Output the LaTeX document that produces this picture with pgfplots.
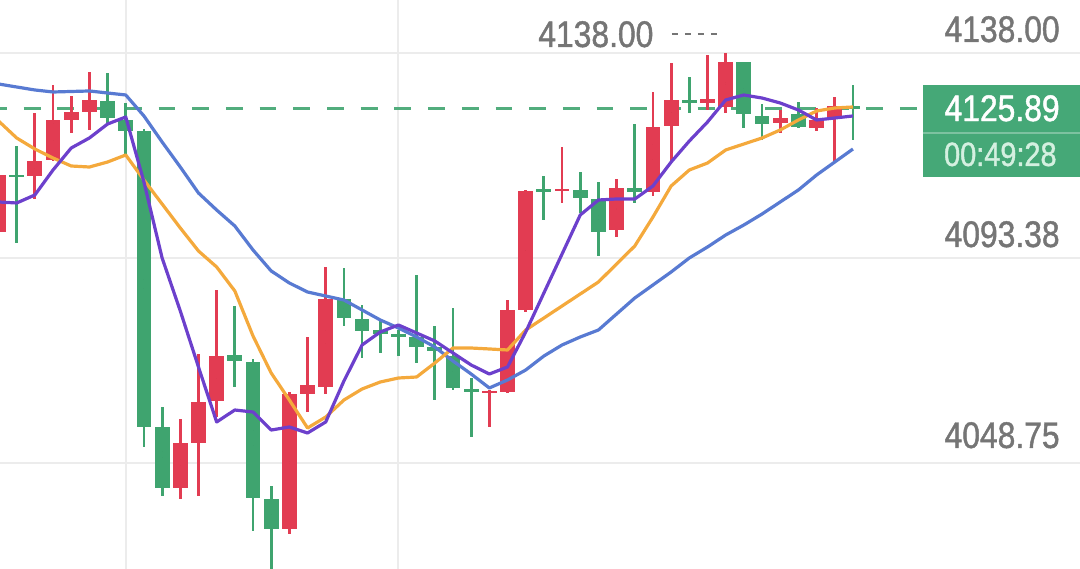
\documentclass[border=0pt]{standalone}
\usepackage{pgfplots}
\usepackage{pgfplotstable}
\pgfplotsset{compat=1.18}
\usepackage{fontspec}
\setmainfont{Liberation Sans}
\newfontfamily\lab[FakeStretch=0.86,FakeBold=1.2]{Liberation Sans}
\definecolor{cred}{RGB}{226,60,82}
\definecolor{cgreen}{RGB}{63,164,111}
\definecolor{corange}{RGB}{244,169,60}
\definecolor{cpurple}{RGB}{108,64,204}
\definecolor{cblue}{RGB}{88,122,210}
\definecolor{gridc}{RGB}{236,236,236}
\definecolor{labgray}{RGB}{117,117,117}
\definecolor{boxgreen}{RGB}{69,168,119}
\definecolor{timec}{RGB}{212,240,224}

\pgfplotstableread{
x o h l c
0 4099.04 4111.66 4098.82 4111.44
2 4111.22 4124.94 4106.22 4114.49
3 4114.71 4131.03 4114.50 4123.42
4 4123.42 4128.64 4120.59 4125.16
5 4125.16 4133.86 4121.24 4127.77
10 4043.31 4058.33 4040.91 4053.10
11 4053.10 4072.48 4041.57 4062.03
12 4062.25 4086.41 4058.76 4072.04
16 4034.38 4064.21 4033.29 4063.77
17 4063.77 4076.18 4059.85 4065.73
18 4065.29 4091.42 4063.77 4084.45
27 4064.10 4064.55 4056.59 4064.50
28 4064.21 4084.23 4063.99 4082.06
29 4082.06 4108.18 4081.62 4107.96
31 4107.90 4117.54 4105.35 4108.40
34 4099.47 4110.57 4097.95 4108.61
36 4107.74 4129.51 4106.87 4121.89
37 4122.11 4135.82 4114.27 4127.77
39 4127.12 4137.60 4125.59 4127.99
40 4126.25 4138.00 4124.94 4136.04
43 4122.76 4125.59 4120.59 4123.85
45 4121.67 4126.03 4121.02 4123.42
46 4123.85 4128.42 4114.49 4126.46
}\redtab

\pgfplotstableread{
x o h l c
1 4111.50 4117.76 4096.64 4111.05
6 4127.55 4133.65 4122.33 4123.85
7 4123.42 4127.12 4115.80 4121.02
8 4121.02 4121.46 4052.23 4056.59
9 4056.59 4060.94 4041.57 4043.31
13 4072.26 4082.93 4065.29 4070.95
14 4070.74 4071.39 4033.95 4041.13
15 4040.91 4043.74 4025.46 4034.38
19 4084.45 4091.20 4078.57 4080.31
20 4080.10 4083.14 4071.61 4077.48
21 4077.70 4079.88 4072.70 4076.83
22 4076.90 4077.70 4072.04 4076.18
23 4076.18 4089.67 4070.52 4074.00
24 4074.00 4078.57 4062.46 4073.13
25 4072.04 4082.49 4064.64 4065.08
26 4064.86 4067.25 4054.41 4064.21
30 4108.30 4111.22 4101.65 4107.80
32 4108.18 4112.10 4103.17 4106.44
33 4106.22 4109.92 4093.81 4099.04
35 4108.61 4122.54 4105.35 4107.74
38 4127.77 4132.77 4124.94 4127.12
41 4136.04 4136.04 4121.67 4124.72
42 4124.29 4126.90 4119.06 4122.54
44 4124.72 4127.33 4121.67 4121.89
47 4126.40 4131.03 4119.06 4125.89
}\greentab

\pgfplotstableread{
x blue purple orange
0 4131.25 4105.57 4123.20
1 4130.60 4105.35 4119.50
2 4129.95 4107.09 4117.10
3 4129.51 4112.53 4115.14
4 4129.62 4117.32 4113.40
5 4129.73 4119.50 4113.18
6 4129.29 4122.54 4114.27
7 4128.86 4124.07 4115.80
8 4124.29 4109.92 4110.35
9 4118.63 4093.38 4105.13
10 4113.18 4081.84 4099.91
11 4107.52 4069.65 4094.90
12 4103.82 4057.68 4091.42
13 4100.34 4060.29 4086.19
14 4095.12 4059.85 4076.40
15 4090.55 4055.93 4068.34
16 4087.93 4056.59 4062.46
17 4085.97 4055.28 4056.37
18 4085.10 4057.68 4058.76
19 4084.23 4066.60 4062.46
20 4082.06 4074.44 4064.86
21 4079.88 4077.27 4066.38
22 4078.14 4078.79 4067.25
23 4076.18 4077.05 4067.47
24 4074.00 4075.31 4070.52
25 4070.95 4072.70 4073.78
26 4068.12 4070.08 4073.78
27 4065.08 4068.12 4073.57
28 4066.82 4069.65 4073.35
29 4068.99 4077.27 4077.70
30 4072.04 4085.76 4080.31
31 4074.44 4094.25 4082.93
32 4076.18 4102.74 4085.54
33 4077.70 4106.00 4088.15
34 4081.19 4106.22 4092.07
35 4084.67 4106.22 4095.99
36 4087.50 4109.05 4102.30
37 4090.33 4114.27 4109.05
38 4093.38 4118.84 4112.53
39 4095.77 4122.98 4114.05
40 4098.38 4127.77 4116.89
41 4100.56 4128.86 4118.19
42 4102.95 4128.20 4119.50
43 4105.57 4127.12 4121.24
44 4108.18 4125.59 4123.42
45 4111.44 4123.42 4125.37
46 4114.27 4123.85 4126.03
47 4117.10 4124.29 4126.25
}\matab

\pgfplotsset{
  wick/.style={only marks, mark=*, mark size=0pt, mark options={draw=none, fill=none}, forget plot,
    error bars/.cd, y dir=both, y explicit, error mark=none,
    error bar style={draw=#1, line width=1.4bp}},
  body/.style={only marks, mark=*, mark size=0pt, mark options={draw=none, fill=none}, forget plot,
    error bars/.cd, y dir=both, y explicit, error mark=none,
    error bar style={draw=#1, line width=7.4bp}},
}

\begin{document}
\begin{tikzpicture}
\begin{axis}[
  width=540bp, height=284.5bp, scale only axis,
  xmin=0.0825, xmax=59.49,
  ymin=4025.675, ymax=4149.537,
  axis lines=none, ticks=none,
  clip=true,
]
% grid
\draw[gridc, line width=1bp] (axis cs:7,4025.675) -- (axis cs:7,4149.537);
\draw[gridc, line width=1bp] (axis cs:22,4025.675) -- (axis cs:22,4149.537);
\draw[gridc, line width=1bp] (axis cs:0.0825,4138) -- (axis cs:59.49,4138);
\draw[gridc, line width=1bp] (axis cs:0.0825,4093.38) -- (axis cs:59.49,4093.38);
\draw[gridc, line width=1bp] (axis cs:0.0825,4048.75) -- (axis cs:59.49,4048.75);
% current price dashed line
\addplot[cgreen!90!white, line width=1.5bp, dash pattern=on 8.4bp off 8.45bp, dash phase=5bp, forget plot]
  coordinates {(0.0825,4125.89) (50.69,4125.89)};
% candles
\addplot[wick=cred] table[x=x, y expr={(\thisrow{h}+\thisrow{l})/2},
  y error plus expr={(\thisrow{h}-\thisrow{l})/2},
  y error minus expr={(\thisrow{h}-\thisrow{l})/2}] {\redtab};
\addplot[body=cred] table[x=x, y expr={(\thisrow{o}+\thisrow{c})/2},
  y error plus expr={abs(\thisrow{c}-\thisrow{o})/2},
  y error minus expr={abs(\thisrow{c}-\thisrow{o})/2}] {\redtab};
\addplot[wick=cgreen] table[x=x, y expr={(\thisrow{h}+\thisrow{l})/2},
  y error plus expr={(\thisrow{h}-\thisrow{l})/2},
  y error minus expr={(\thisrow{h}-\thisrow{l})/2}] {\greentab};
\addplot[body=cgreen] table[x=x, y expr={(\thisrow{o}+\thisrow{c})/2},
  y error plus expr={abs(\thisrow{c}-\thisrow{o})/2},
  y error minus expr={abs(\thisrow{c}-\thisrow{o})/2}] {\greentab};
% moving averages
\addplot[cblue, line width=1.6bp, line join=round] table[x=x, y=blue] {\matab};
\addplot[corange, line width=1.6bp, line join=round] table[x=x, y=orange] {\matab};
\addplot[cpurple, line width=1.6bp, line join=round] table[x=x, y=purple] {\matab};
% price labels
\node[anchor=base east, inner sep=0pt, text=labgray, font=\lab\fontsize{18.5bp}{18.5bp}\selectfont] at (rel axis cs:0.9815,0.9262) {4138.00};
\node[anchor=base east, inner sep=0pt, text=labgray, font=\lab\fontsize{18.5bp}{18.5bp}\selectfont] at (rel axis cs:0.9815,0.5659) {4093.38};
\node[anchor=base east, inner sep=0pt, text=labgray, font=\lab\fontsize{18.5bp}{18.5bp}\selectfont] at (rel axis cs:0.9815,0.2127) {4048.75};
% max marker
\node[anchor=base west, inner sep=0pt, text=labgray, font=\lab\fontsize{18.5bp}{18.5bp}\selectfont] at (rel axis cs:0.4981,0.9174) {4138.00};
\draw[labgray, line width=1.1bp, dash pattern=on 3bp off 3.5bp] (rel axis cs:0.6222,0.9402) -- (rel axis cs:0.6667,0.9402);
% current price box
\fill[boxgreen] (rel axis cs:0.8546,0.8506) rectangle (rel axis cs:1,0.6889);
\draw[boxgreen!70!white, line width=0.6bp] (rel axis cs:0.8546,0.7663) -- (rel axis cs:1,0.7663);
\node[anchor=base east, inner sep=0pt, text=white, font=\lab\fontsize{18.5bp}{18.5bp}\selectfont] at (rel axis cs:0.9815,0.7873) {4125.89};
\node[anchor=base east, inner sep=0pt, text=timec, font=\lab\fontsize{16.8bp}{16.8bp}\selectfont] at (rel axis cs:0.9787,0.7083) {00:49:28};
\coordinate (bl) at (rel axis cs:0,0);
\coordinate (tr) at (rel axis cs:1,1);
\end{axis}
\pgfresetboundingbox
\path[use as bounding box] (bl) rectangle (tr);
\end{tikzpicture}
\end{document}
